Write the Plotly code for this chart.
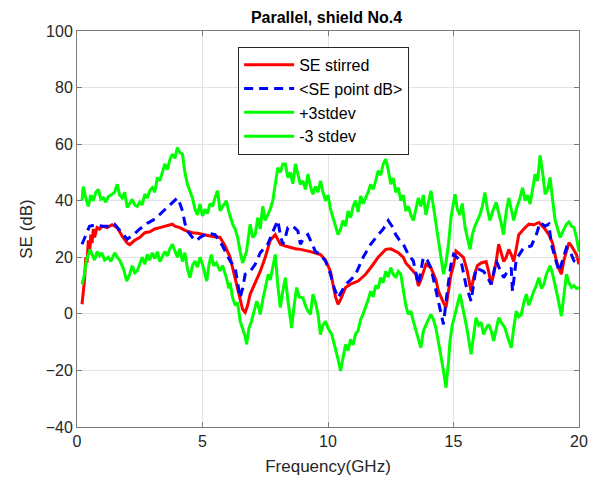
import plotly.graph_objects as go

# ---- data ----
red_x = [0.2,0.3,0.35,0.4,0.45,0.5,0.55,0.6,0.65,0.7,0.8,0.9,1.0,1.2,1.4,1.6,1.8,2.0,2.1,2.3,2.5,2.7,2.9,3.1,3.3,3.5,3.7,3.8,3.9,4.1,4.3,4.6,4.8,5.0,5.3,5.7,5.9,6.1,6.3,6.4,6.5,6.6,6.7,6.8,6.9,7.1,7.3,7.5,7.7,7.9,8.0,8.1,8.3,8.5,8.7,8.9,9.1,9.3,9.5,9.7,9.9,10.1,10.2,10.3,10.4,10.5,10.7,10.9,11.2,11.5,11.7,12.0,12.3,12.5,12.8,13.0,13.1,13.3,13.5,13.6,13.7,13.9,14.1,14.3,14.4,14.6,14.7,14.8,14.9,15.0,15.1,15.2,15.4,15.55,15.7,15.8,15.95,16.1,16.3,16.4,16.5,16.6,16.7,16.8,16.9,17.0,17.1,17.2,17.3,17.4,17.5,17.6,17.8,18.0,18.2,18.4,18.6,18.8,18.95,19.1,19.2,19.3,19.4,19.6,19.7,19.9,20.0]
red_y = [3.4,12,20,18,26,21,28,25,30,27,30.5,30,31,30.5,31.5,30.5,27.5,25,24.5,26,27,28.7,29,30,30.5,31,31.5,31.7,31,30.5,29.5,28.7,28.5,28,27.5,27,24,20,13,9,5,1.5,0.5,3,7,11,15,20,26,28,26,24.6,24,23.5,23,22.8,22.5,22,21.5,21,19,15,10.4,6,3.4,5,9.3,10.5,11.6,14,16.3,20,22.8,23,21.6,20,18,16,14,9.9,12,17.5,16.3,12,8,4,2.2,8,14,17,22.2,21.5,19.9,15,8,12.8,17,18,18.5,15,10.4,14,18.5,24.6,21,18.5,20,22.8,21,18.5,23,28,30,31.7,31.5,32.3,30.5,28,25,18.7,16,14,19,25.2,24,21,17.5]

blue_x = [0.2,0.35,0.5,0.75,1.0,1.25,1.5,1.75,2.0,2.25,2.5,2.8,3.1,3.4,3.7,3.9,4.0,4.1,4.2,4.3,4.4,4.6,4.75,4.9,5.2,5.5,5.8,6.1,6.3,6.4,6.5,6.6,6.7,6.9,7.1,7.3,7.6,7.8,8.0,8.1,8.2,8.3,8.4,8.6,8.8,8.9,9.05,9.2,9.35,9.5,9.7,9.9,10.1,10.25,10.4,10.55,10.7,10.9,11.1,11.4,11.7,12.0,12.2,12.4,12.55,12.7,12.85,13.0,13.2,13.4,13.6,13.8,13.95,14.1,14.25,14.4,14.6,14.75,14.9,15.0,15.15,15.3,15.5,15.7,15.9,16.2,16.35,16.5,16.7,16.85,17.0,17.15,17.3,17.35,17.5,17.8,18.1,18.3,18.45,18.65,18.8,18.9,19.05,19.2,19.35,19.5,19.65,19.8,20.0]
blue_y = [24.6,28,31,31.5,31,31,31.7,29,26.4,28,30,32,33.5,36,38.5,40.5,41,39,36.4,32,29.3,27,25.8,27,28.5,28,24,18.7,16.3,11,5.7,9,14,15,17.5,21.6,24.6,29,33,28,24.6,27,30.5,31,29.3,24.6,27,28,25,22,21,18.7,14,9,5.7,8,10.4,12,14,20,24.6,28,30,33,31,28,26,24.6,21,18.7,10.4,20,19,16.3,10,4.5,-3.7,8,17.5,21,20,18.7,10,4.5,16.3,15,13,10.4,18.7,16,12.8,15,16.3,8,19.3,23.4,24,28,32.3,31,31.7,24.6,20,15,19,23.4,22,18.7,18]

up_x = [0.2,0.25,0.35,0.45,0.55,0.65,0.75,0.85,0.95,1.05,1.15,1.25,1.4,1.5,1.6,1.7,1.8,1.9,2.0,2.1,2.2,2.3,2.4,2.5,2.6,2.7,2.8,2.9,3.0,3.1,3.2,3.3,3.4,3.5,3.6,3.7,3.8,3.9,4.0,4.1,4.2,4.3,4.4,4.5,4.6,4.7,4.8,4.9,5.0,5.1,5.2,5.3,5.4,5.5,5.6,5.7,5.8,5.95,6.05,6.2,6.3,6.4,6.5,6.6,6.75,6.85,6.9,7.0,7.1,7.2,7.3,7.4,7.5,7.6,7.7,7.8,7.9,8.0,8.1,8.2,8.3,8.4,8.5,8.6,8.7,8.8,8.9,9.0,9.1,9.2,9.3,9.4,9.5,9.6,9.7,9.8,9.9,10.0,10.1,10.2,10.3,10.4,10.5,10.6,10.7,10.8,10.9,11.0,11.1,11.2,11.3,11.4,11.5,11.6,11.7,11.8,11.9,12.0,12.1,12.2,12.3,12.4,12.5,12.6,12.7,12.8,12.9,13.0,13.1,13.2,13.3,13.4,13.5,13.6,13.7,13.8,13.9,14.0,14.1,14.2,14.3,14.4,14.5,14.6,14.7,14.8,14.9,15.0,15.06,15.15,15.25,15.35,15.46,15.55,15.66,15.75,15.85,16.05,16.15,16.25,16.35,16.45,16.55,16.7,16.8,16.9,16.99,17.1,17.2,17.3,17.4,17.5,17.65,17.75,17.85,17.95,18.05,18.15,18.25,18.35,18.45,18.55,18.65,18.75,18.85,18.95,19.05,19.15,19.25,19.35,19.5,19.6,19.7,19.8,19.9,20.0]
up_y = [40,45,41,38,42,40,43,44,40.5,41,39.5,41.5,42.3,43,45.8,42,41,43,37.6,39,40.5,38.5,38,39.5,38.5,42.3,41,43.5,44.6,43,48.2,47,50,53,51,54.5,56.5,55,58.8,57,56.5,50,45.8,43,41,37,35,38.8,34.6,37,35.5,39,38,41,43.5,36.4,38,40,36,31.7,30,27,22,18,22,28,31.7,27,28,34,30,38,33,35,37,40,46,51.7,50,53,53,48.2,50,46,53,49,45.8,47,44,49.4,45,42.3,45,43,47,43,40,42,37,34,31,28,30,33,31,36.4,34,38,40,36,41.7,39,41,43,45.8,44,47,50.6,49,53,54.7,51,45.8,48,43,44.6,40,42,36.4,38,35,33,37,41,38,42,35,40,43.5,38,32,24.6,20,14,18,24.6,34,40,42.3,37,35,39,30.5,27,22.8,28,31,35,38,42.9,37,33,36,39.4,36,32,28,36,41,37,33,37,41,44.6,40,42,38.8,44,49.4,47,56,50,42.3,44,48.2,40,33,30,27,29,31.7,32.5,31,30.5,27,22]

lo_x = [0.2,0.3,0.37,0.45,0.52,0.6,0.7,0.8,0.9,0.99,1.1,1.25,1.35,1.5,1.6,1.7,1.78,1.85,1.98,2.1,2.2,2.3,2.4,2.5,2.6,2.7,2.8,2.9,3.0,3.1,3.2,3.3,3.4,3.5,3.6,3.7,3.8,3.9,4.0,4.1,4.2,4.3,4.4,4.5,4.6,4.7,4.8,4.9,5.0,5.1,5.17,5.25,5.35,5.45,5.55,5.7,5.8,5.95,6.05,6.1,6.2,6.3,6.4,6.5,6.6,6.7,6.76,6.85,6.95,7.05,7.16,7.25,7.3,7.4,7.5,7.62,7.7,7.8,7.9,8.0,8.1,8.2,8.3,8.4,8.5,8.55,8.65,8.75,8.85,9.0,9.1,9.2,9.3,9.4,9.5,9.6,9.7,9.8,9.9,10.0,10.15,10.3,10.4,10.5,10.6,10.7,10.8,10.9,11.0,11.1,11.2,11.3,11.4,11.5,11.6,11.7,11.8,11.9,12.0,12.1,12.2,12.3,12.4,12.5,12.6,12.7,12.8,12.9,13.0,13.1,13.2,13.3,13.4,13.5,13.6,13.7,13.8,13.9,14.0,14.1,14.2,14.3,14.4,14.5,14.6,14.65,14.7,14.8,14.86,14.95,15.06,15.15,15.26,15.35,15.45,15.55,15.7,15.8,15.9,16.0,16.1,16.2,16.3,16.4,16.5,16.6,16.7,16.8,16.9,17.05,17.15,17.3,17.4,17.5,17.6,17.7,17.8,17.9,18.0,18.1,18.2,18.3,18.4,18.5,18.6,18.7,18.85,18.95,19.05,19.15,19.3,19.4,19.5,19.6,19.7,19.8,19.9,20.0]
lo_y = [10.4,14,18.7,21,22.8,21,19,22,20.5,21.6,19,20,18.5,21.6,20,19,17.5,16,11.6,14,17,14.5,15.2,18,20,17.5,21,19,21.6,19.5,22,18.5,20,22,20.5,23,24.6,22,20,23,18.5,21.6,16,12.8,17,18.7,16.5,20,17.5,14,11.6,17,21,17,18,15.2,17,12.8,9,11,5.7,3,4,-2.6,-5,-8,-10.8,-5,-2.6,1,4.5,2,-0.2,5,9,14,12,17,21,10,2.2,8,12.8,5,-2,-5,3,9.3,6,5.7,3,1,-0.2,7,4,0,-7.3,-4,-2.6,-5,-7.3,-12,-16,-20.2,-15,-10.8,-13,-9,-11,-7,-6,-2,0,2.2,5,8,6,10,9,12.8,11,15,13,16.3,14,12.8,15,14,8,3,-0.2,1,-2.6,-6,-9,-12,-6,-3.7,-2,-0.2,-2,-5,-9.6,-15,-20.2,-23,-26.1,-17,-9.6,-4,-0.2,3,7,3,-1.4,-6,-14.3,-8,-1.4,-4,-3,-7.3,-5,-3.7,-6,-9.6,-5,-1.4,-3,-5,-8,-12,-5,1,-1,-0.2,4,7,3,5.7,8,10,12.8,9,10.4,14,17,14,10.4,6,-0.8,7,14,11,9.3,10,9,9.3]

names = ["SE stirred", "<SE point dB>", "+3stdev", "-3 stdev"]
x_ticks = [0, 5, 10, 15, 20]
y_ticks = [-40, -20, 0, 20, 40, 60, 80, 100]

FONT = "Liberation Sans, Arial, Helvetica, sans-serif"
AX = "#262626"

fig = go.Figure()
fig.add_trace(go.Scatter(x=red_x, y=red_y, mode="lines", name=names[0],
                         line=dict(color="#ff0000", width=3)))
fig.add_trace(go.Scatter(x=blue_x, y=blue_y, mode="lines", name=names[1],
                         line=dict(color="#0000ff", width=3, dash="9px,6px")))
fig.add_trace(go.Scatter(x=up_x, y=up_y, mode="lines", name=names[2],
                         line=dict(color="#00ff00", width=3)))
fig.add_trace(go.Scatter(x=lo_x, y=lo_y, mode="lines", name=names[3],
                         line=dict(color="#00ff00", width=3)))

axis_common = dict(showline=True, linecolor="#7a7a7a", linewidth=1, mirror="ticks",
                   ticks="inside", ticklen=5, tickcolor="#7a7a7a",
                   showgrid=True, gridcolor="#e3e3e3", gridwidth=1,
                   zeroline=False, tickfont=dict(family=FONT, size=16, color=AX),
                   title_font=dict(family=FONT, size=17, color=AX))

fig.update_xaxes(range=[0, 20], tickvals=x_ticks, title_text="Frequency(GHz)",
                 title_standoff=10, **axis_common)
fig.update_yaxes(range=[-40, 100], tickvals=y_ticks, title_text="SE (dB)",
                 title_standoff=8, **axis_common)

# page body has an 8px margin, so the figure is 8px smaller and shifted
fig.update_layout(
    width=594, height=476,
    margin=dict(l=69, r=23, t=23, b=57),
    paper_bgcolor="white", plot_bgcolor="white",
    title=dict(text="<b>Parallel, shield No.4</b>", xref="paper", x=0.497,
               xanchor="center", yref="container", y=0.98, yanchor="middle",
               font=dict(family=FONT, size=16, color="black")),
    legend=dict(x=0.321, y=0.96, xanchor="left", yanchor="top",
                bgcolor="white", bordercolor=AX, borderwidth=1,
                font=dict(family=FONT, size=16, color="black"),
                itemwidth=50),
    showlegend=True,
)

fig.write_html("out.html")
